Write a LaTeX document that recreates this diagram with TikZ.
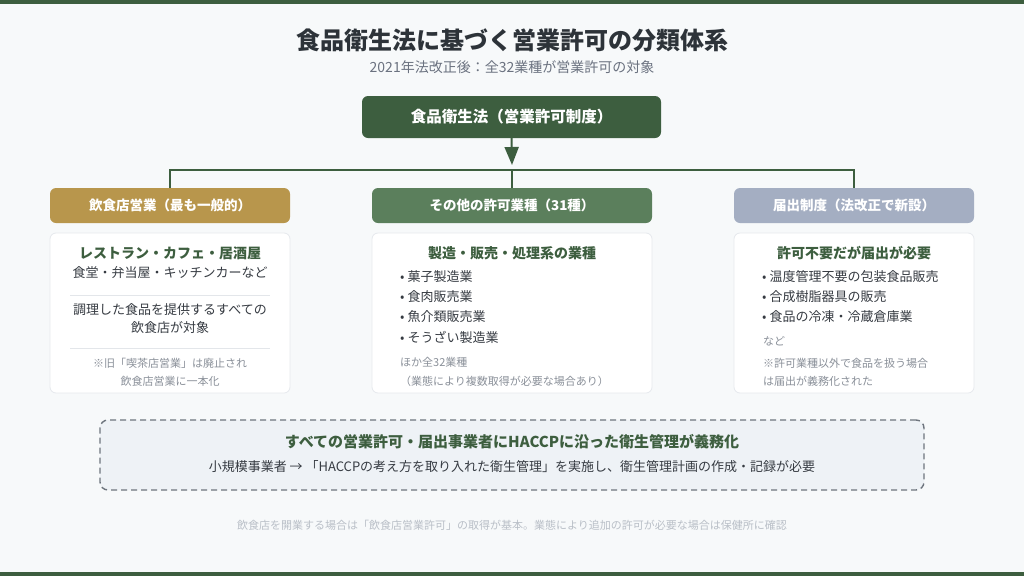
\documentclass[tikz,border=0pt]{standalone}
\usepackage{fontspec}
\setmainfont{Noto Sans CJK JP}
\usetikzlibrary{arrows.meta}
\definecolor{bgc}{HTML}{F7F9FA}
\definecolor{darkg}{HTML}{3D5E3F}
\definecolor{midg}{HTML}{5B7F5C}
\definecolor{goldc}{HTML}{B8964C}
\definecolor{slatec}{HTML}{A4AEC2}
\definecolor{titlec}{HTML}{2D3339}
\definecolor{subc}{HTML}{6B7280}
\definecolor{bodyc}{HTML}{363B42}
\definecolor{notec}{HTML}{8A9099}
\definecolor{cardb}{HTML}{E6E9ED}
\definecolor{sepc}{HTML}{E3E6EA}
\definecolor{dashf}{HTML}{EEF2F6}
\definecolor{dashb}{HTML}{6E757E}
\definecolor{footc}{HTML}{B9BFC7}
\newcommand{\fs}[1]{\fontsize{#1}{#1}\selectfont}
\tikzset{
  catbox/.style={rounded corners=6pt, minimum width=240pt, minimum height=35pt, inner sep=0pt, text=white, font=\fs{13.5}\bfseries},
  cardbox/.style={rounded corners=6pt, draw=cardb, line width=0.8pt, fill=white, minimum width=240pt, minimum height=160pt, inner sep=0pt},
  headtxt/.style={text=darkg, font=\fs{14}\bfseries, inner sep=0pt},
  bodytxt/.style={text=bodyc, font=\fs{13}, inner sep=0pt},
  notetxt/.style={text=notec, font=\fs{11}, inner sep=0pt},
  listtxt/.style={text=bodyc, font=\fs{13}, inner sep=0pt, anchor=west},
  notel/.style={text=notec, font=\fs{11}, inner sep=0pt, anchor=west},
  conn/.style={draw=darkg, line width=2pt},
  sepline/.style={draw=sepc, line width=0.8pt}
}
\begin{document}
\begin{tikzpicture}[x=1pt,y=-1pt]
\useasboundingbox (0,0) rectangle (1024,576);
\fill[bgc] (0,0) rectangle (1024,576);
\fill[darkg] (0,0) rectangle (1024,4);
\fill[darkg] (0,572) rectangle (1024,576);

% title
\node[text=titlec, font=\fs{24}\bfseries, inner sep=0pt] (title) at (512,40) {食品衛生法に基づく営業許可の分類体系};
\node[text=subc, font=\fs{14}, inner sep=0pt] (sub) at (512,67) {2021年法改正後：全32業種が営業許可の対象};

% top box
\node[rounded corners=6pt, fill=darkg, minimum width=299pt, minimum height=42pt, inner sep=0pt, text=white, font=\fs{15.5}\bfseries] (top) at (511.5,117) {食品衛生法（営業許可制度）};

% connectors
\coordinate (tip) at (512,165);
\coordinate (jl) at (170,170);
\coordinate (jc) at (512,170);
\coordinate (jr) at (854,170);
\draw[conn, -{Triangle[length=18pt,width=14pt]}] (top.south) -- (tip);
\draw[conn, line cap=rect] (jl) -- (jr);

% category boxes
\node[catbox, fill=goldc] (cat1) at (170,205.5) {飲食店営業（最も一般的）};
\node[catbox, fill=midg, minimum width=280pt] (cat2) at (512,205.5) {その他の許可業種（31種）};
\node[catbox, fill=slatec] (cat3) at (854,205.5) {届出制度（法改正で新設）};
\draw[conn] (jl) -- (cat1.north);
\draw[conn] (jc) -- (cat2.north);
\draw[conn] (jr) -- (cat3.north);

% cards
\node[cardbox] (card1) at (170,313) {};
\node[cardbox, minimum width=280pt] (card2) at (512,313) {};
\node[cardbox] (card3) at (854,313) {};

% card 1
\node[headtxt] (c1h) at (170,253) {レストラン・カフェ・居酒屋};
\node[bodytxt] (c1a) at (170,273) {食堂・弁当屋・キッチンカーなど};
\coordinate (s1a) at (70,295); \coordinate (s1b) at (270,295);
\draw[sepline] (s1a) -- (s1b);
\node[bodytxt] (c1b) at (170,310) {調理した食品を提供するすべての};
\node[bodytxt] (c1c) at (170,328) {飲食店が対象};
\coordinate (s2a) at (70,348); \coordinate (s2b) at (270,348);
\draw[sepline] (s2a) -- (s2b);
\node[notetxt] (c1d) at (170,363) {※旧「喫茶店営業」は廃止され};
\node[notetxt] (c1e) at (170,381) {飲食店営業に一本化};

% card 2
\node[headtxt] (c2h) at (512,253) {製造・販売・処理系の業種};
\node[listtxt] (c2a) at (400,277) {• 菓子製造業};
\node[listtxt] (c2b) at (400,297) {• 食肉販売業};
\node[listtxt] (c2c) at (400,317) {• 魚介類販売業};
\node[listtxt] (c2d) at (400,337) {• そうざい製造業};
\node[notel] (c2e) at (400,362) {ほか全32業種};
\node[notel] (c2f) at (400,381) {（業態により複数取得が必要な場合あり）};

% card 3
\node[headtxt] (c3h) at (854,253) {許可不要だが届出が必要};
\node[listtxt] (c3a) at (762,277) {• 温度管理不要の包装食品販売};
\node[listtxt] (c3b) at (762,297) {• 合成樹脂器具の販売};
\node[listtxt] (c3c) at (762,317) {• 食品の冷凍・冷蔵倉庫業};
\node[notel] (c3d) at (763,341) {など};
\node[notel] (c3e) at (763,363) {※許可業種以外で食品を扱う場合};
\node[notel] (c3f) at (763,381) {は届出が義務化された};

% HACCP dashed box
\node[rounded corners=8pt, fill=dashf, draw=dashb, line width=1.4pt, dash pattern=on 6pt off 4pt, minimum width=824pt, minimum height=70pt, inner sep=0pt] (haccp) at (512,455) {};
\node[headtxt, font=\fs{15}\bfseries] (hh) at (512,442) {すべての営業許可・届出事業者にHACCPに沿った衛生管理が義務化};
\node[bodytxt, font=\fs{13}] (hb) at (512,467) {小規模事業者 → 「HACCPの考え方を取り入れた衛生管理」を実施し、衛生管理計画の作成・記録が必要};

% footer
\node[text=footc, font=\fs{11}, inner sep=0pt] (foot) at (512,525) {飲食店を開業する場合は「飲食店営業許可」の取得が基本。業態により追加の許可が必要な場合は保健所に確認};
\end{tikzpicture}
\end{document}
